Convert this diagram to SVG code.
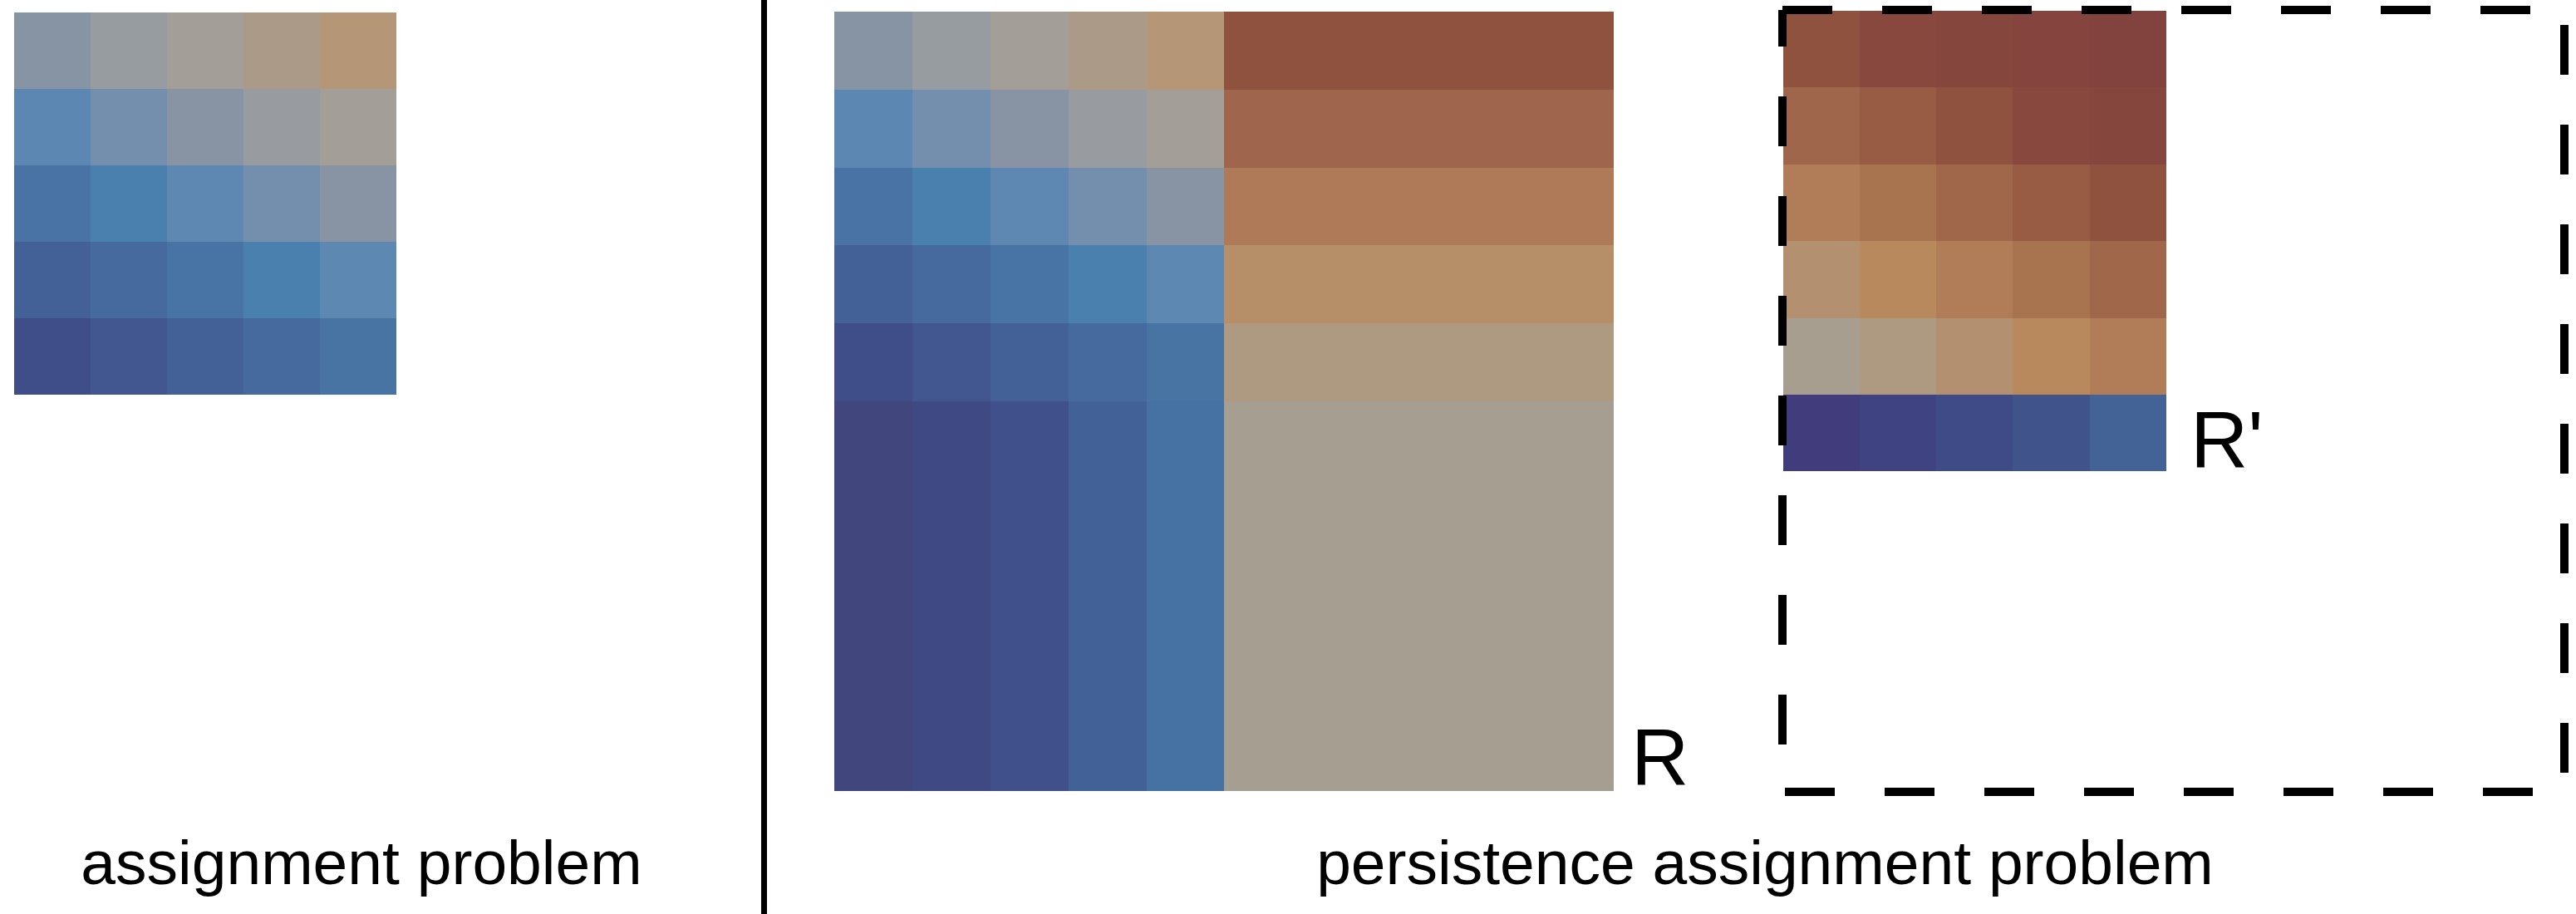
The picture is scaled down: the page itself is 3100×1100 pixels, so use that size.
<svg xmlns="http://www.w3.org/2000/svg" width="3100" height="1100" viewBox="0 0 3100 1100">
<style>
  .cell { shape-rendering: crispEdges; }
  .lbl { font-family: "Liberation Sans", Arial, sans-serif; fill: #000; }
  .cap { font-size: 75px; text-anchor: middle; }
  .tag { font-size: 96px; }
  .dash { stroke: #000; stroke-width: 10; fill: none; stroke-dasharray: 60 60; }
</style>
<rect width="3100" height="1100" fill="#ffffff"/>

<g id="assignment-matrix" class="cell">
  <!-- row 0 -->
  <rect x="17" y="15" width="92" height="92" fill="#8794a4"/>
  <rect x="109" y="15" width="92" height="92" fill="#979ca1"/>
  <rect x="201" y="15" width="92" height="92" fill="#a39f98"/>
  <rect x="293" y="15" width="92" height="92" fill="#aa9a87"/>
  <rect x="385" y="15" width="92" height="92" fill="#b59677"/>
  <!-- row 1 -->
  <rect x="17" y="107" width="92" height="92" fill="#5b87b2"/>
  <rect x="109" y="107" width="92" height="92" fill="#748ead"/>
  <rect x="201" y="107" width="92" height="92" fill="#8894a4"/>
  <rect x="293" y="107" width="92" height="92" fill="#989ca1"/>
  <rect x="385" y="107" width="92" height="92" fill="#a39e97"/>
  <!-- row 2 -->
  <rect x="17" y="199" width="92" height="92" fill="#4873a4"/>
  <rect x="109" y="199" width="92" height="92" fill="#4a80ae"/>
  <rect x="201" y="199" width="92" height="92" fill="#5e88b2"/>
  <rect x="293" y="199" width="92" height="92" fill="#748ead"/>
  <rect x="385" y="199" width="92" height="92" fill="#8894a4"/>
  <!-- row 3 -->
  <rect x="17" y="291" width="92" height="92" fill="#446197"/>
  <rect x="109" y="291" width="92" height="92" fill="#476a9e"/>
  <rect x="201" y="291" width="92" height="92" fill="#4874a5"/>
  <rect x="293" y="291" width="92" height="92" fill="#4a80ae"/>
  <rect x="385" y="291" width="92" height="92" fill="#5d88b2"/>
  <!-- row 4 -->
  <rect x="17" y="383" width="92" height="92" fill="#3f4d89"/>
  <rect x="109" y="383" width="92" height="92" fill="#42578f"/>
  <rect x="201" y="383" width="92" height="92" fill="#436196"/>
  <rect x="293" y="383" width="92" height="92" fill="#476a9e"/>
  <rect x="385" y="383" width="92" height="92" fill="#4874a4"/>
</g>

<g id="divider">
  <line x1="919.5" y1="0" x2="919.5" y2="1100" stroke="#000" stroke-width="7"/>
</g>

<g id="persistence-matrix" class="cell">
  <!-- row 0 -->
  <rect x="1004" y="14" width="94" height="94" fill="#8794a4"/>
  <rect x="1098" y="14" width="94" height="94" fill="#979ca1"/>
  <rect x="1192" y="14" width="94" height="94" fill="#a39f98"/>
  <rect x="1286" y="14" width="94" height="94" fill="#aa9a87"/>
  <rect x="1380" y="14" width="93" height="94" fill="#b59677"/>
  <rect x="1473" y="14" width="469" height="94" fill="#8f523e"/>
  <!-- row 1 -->
  <rect x="1004" y="108" width="94" height="94" fill="#5b87b2"/>
  <rect x="1098" y="108" width="94" height="94" fill="#748ead"/>
  <rect x="1192" y="108" width="94" height="94" fill="#8894a4"/>
  <rect x="1286" y="108" width="94" height="94" fill="#989ca1"/>
  <rect x="1380" y="108" width="93" height="94" fill="#a39e97"/>
  <rect x="1473" y="108" width="469" height="94" fill="#a0664d"/>
  <!-- row 2 -->
  <rect x="1004" y="202" width="94" height="93" fill="#4873a4"/>
  <rect x="1098" y="202" width="94" height="93" fill="#4a80ae"/>
  <rect x="1192" y="202" width="94" height="93" fill="#5e88b2"/>
  <rect x="1286" y="202" width="94" height="93" fill="#748ead"/>
  <rect x="1380" y="202" width="93" height="93" fill="#8894a4"/>
  <rect x="1473" y="202" width="469" height="93" fill="#af7a57"/>
  <!-- row 3 -->
  <rect x="1004" y="295" width="94" height="94" fill="#446197"/>
  <rect x="1098" y="295" width="94" height="94" fill="#476a9e"/>
  <rect x="1192" y="295" width="94" height="94" fill="#4874a5"/>
  <rect x="1286" y="295" width="94" height="94" fill="#4a80ae"/>
  <rect x="1380" y="295" width="93" height="94" fill="#5d88b2"/>
  <rect x="1473" y="295" width="469" height="94" fill="#b68e67"/>
  <!-- row 4 -->
  <rect x="1004" y="389" width="94" height="94" fill="#3f4d89"/>
  <rect x="1098" y="389" width="94" height="94" fill="#42578f"/>
  <rect x="1192" y="389" width="94" height="94" fill="#436196"/>
  <rect x="1286" y="389" width="94" height="94" fill="#476a9e"/>
  <rect x="1380" y="389" width="93" height="94" fill="#4874a4"/>
  <rect x="1473" y="389" width="469" height="94" fill="#ad9a81"/>
  <!-- merged diagonal rows -->
  <rect x="1004" y="483" width="94" height="469" fill="#41467d"/>
  <rect x="1098" y="483" width="94" height="469" fill="#3f4a85"/>
  <rect x="1192" y="483" width="94" height="469" fill="#40508a"/>
  <rect x="1286" y="483" width="94" height="469" fill="#426197"/>
  <rect x="1380" y="483" width="93" height="469" fill="#4671a3"/>
  <rect x="1473" y="483" width="469" height="469" fill="#a69e91"/>
</g>

<g id="reduced-matrix" class="cell">
  <!-- row 0 -->
  <rect x="2146" y="13" width="92" height="92" fill="#8f523e"/>
  <rect x="2238" y="13" width="92" height="92" fill="#88483e"/>
  <rect x="2330" y="13" width="92" height="92" fill="#85463e"/>
  <rect x="2422" y="13" width="93" height="92" fill="#85453e"/>
  <rect x="2515" y="13" width="92" height="92" fill="#82433f"/>
  <!-- row 1 -->
  <rect x="2146" y="105" width="92" height="93" fill="#a0664b"/>
  <rect x="2238" y="105" width="92" height="93" fill="#985c45"/>
  <rect x="2330" y="105" width="92" height="93" fill="#8f523e"/>
  <rect x="2422" y="105" width="93" height="93" fill="#88483e"/>
  <rect x="2515" y="105" width="92" height="93" fill="#85463e"/>
  <!-- row 2 -->
  <rect x="2146" y="198" width="92" height="92" fill="#b07d58"/>
  <rect x="2238" y="198" width="92" height="92" fill="#a87450"/>
  <rect x="2330" y="198" width="92" height="92" fill="#a0674b"/>
  <rect x="2422" y="198" width="93" height="92" fill="#985c45"/>
  <rect x="2515" y="198" width="92" height="92" fill="#8f523e"/>
  <!-- row 3 -->
  <rect x="2146" y="290" width="92" height="93" fill="#b39070"/>
  <rect x="2238" y="290" width="92" height="93" fill="#b8895c"/>
  <rect x="2330" y="290" width="92" height="93" fill="#b07d58"/>
  <rect x="2422" y="290" width="93" height="93" fill="#a87450"/>
  <rect x="2515" y="290" width="92" height="93" fill="#a0674b"/>
  <!-- row 4 -->
  <rect x="2146" y="383" width="92" height="92" fill="#a89e8f"/>
  <rect x="2238" y="383" width="92" height="92" fill="#ae9a80"/>
  <rect x="2330" y="383" width="92" height="92" fill="#b3906f"/>
  <rect x="2422" y="383" width="93" height="92" fill="#b8895c"/>
  <rect x="2515" y="383" width="92" height="92" fill="#b07d58"/>
  <!-- row 5 -->
  <rect x="2146" y="475" width="92" height="92" fill="#413d7c"/>
  <rect x="2238" y="475" width="92" height="92" fill="#404381"/>
  <rect x="2330" y="475" width="92" height="92" fill="#3f4b86"/>
  <rect x="2422" y="475" width="93" height="92" fill="#40538b"/>
  <rect x="2515" y="475" width="92" height="92" fill="#436397"/>
</g>

<g id="dashed-frame">
  <line class="dash" x1="2145" y1="12" x2="3087" y2="12"/>
  <line class="dash" x1="3086" y1="30" x2="3086" y2="953"/>
  <line class="dash" x1="2148" y1="953" x2="3087" y2="953"/>
  <line class="dash" x1="2145" y1="12" x2="2145" y2="953" stroke-dashoffset="16"/>
</g>

<g id="connectors"></g>

<g id="labels">
  <text class="lbl tag" x="1963" y="945">R</text>
  <text class="lbl tag" x="2636" y="563">R'</text>
  <text class="lbl cap" x="435" y="1064">assignment problem</text>
  <text class="lbl cap" x="2124" y="1064">persistence assignment problem</text>
</g>
</svg>
